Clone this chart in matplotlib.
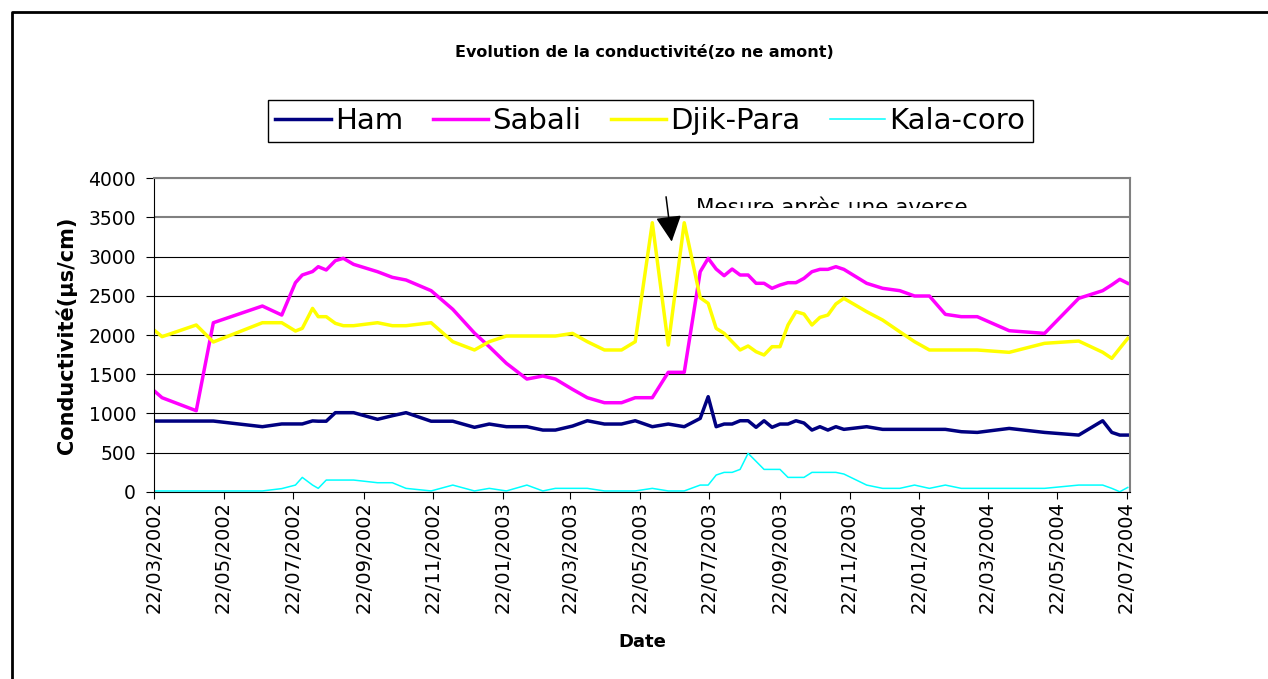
import numpy as np
import pandas as pd
import matplotlib
matplotlib.use('Agg')
from matplotlib import pyplot as plt
from matplotlib.lines import Line2D
from matplotlib.patches import Rectangle

# dates de prélèvement
dates = ['2002-03-22', '2002-03-29', '2002-04-28', '2002-05-13', '2002-06-25',
         '2002-07-12', '2002-07-24', '2002-07-30', '2002-08-08', '2002-08-13',
         '2002-08-20', '2002-08-28', '2002-09-04', '2002-09-13', '2002-10-04',
         '2002-10-17', '2002-10-29', '2002-11-20', '2002-12-09', '2002-12-28',
         '2003-01-10', '2003-01-25', '2003-02-12', '2003-02-26', '2003-03-09',
         '2003-03-24', '2003-04-06', '2003-04-21', '2003-05-06', '2003-05-18',
         '2003-06-02', '2003-06-16', '2003-06-30', '2003-07-14', '2003-07-21',
         '2003-07-28', '2003-08-04', '2003-08-11', '2003-08-18', '2003-08-25',
         '2003-09-01', '2003-09-08', '2003-09-15', '2003-09-22', '2003-09-29',
         '2003-10-06', '2003-10-13', '2003-10-20', '2003-10-27', '2003-11-03',
         '2003-11-10', '2003-11-17', '2003-12-07', '2003-12-21', '2004-01-05',
         '2004-01-18', '2004-01-31', '2004-02-14', '2004-02-28', '2004-03-13',
         '2004-04-10', '2004-05-11', '2004-06-10', '2004-07-01', '2004-07-09',
         '2004-07-16', '2004-07-23']

ham = [902, 902, 902, 902, 830, 865, 865, 865, 904, 900,
       900, 1009, 1009, 1009, 924, 970, 1009, 900, 900, 822,
       864, 830, 830, 787, 787, 838, 906, 864, 864, 906,
       830, 864, 830, 936, 1213, 830, 864, 864, 906, 906,
       822, 906, 822, 864, 864, 906, 877, 787, 830, 787,
       830, 796, 830, 796, 796, 796, 796, 796, 766, 757,
       808, 757, 723, 906, 757, 723, 723]

sabali = [1289, 1200, 1034, 2157, 2370, 2255, 2668, 2766, 2810, 2872,
          2830, 2949, 2979, 2902, 2808, 2736, 2702, 2566, 2328, 2025,
          1851, 1639, 1438, 1477, 1438, 1307, 1200, 1136, 1136, 1200,
          1200, 1524, 1524, 2808, 2979, 2842, 2757, 2842, 2766, 2766,
          2660, 2660, 2596, 2638, 2668, 2668, 2723, 2808, 2838, 2838,
          2872, 2838, 2660, 2596, 2566, 2498, 2498, 2264, 2234, 2234,
          2055, 2021, 2468, 2566, 2640, 2711, 2660]

djik_para = [2064, 1979, 2128, 1911, 2157, 2157, 2051, 2085, 2340, 2234,
             2234, 2149, 2119, 2119, 2157, 2119, 2119, 2157, 1915, 1809,
             1915, 1987, 1987, 1987, 1987, 2021, 1915, 1809, 1809, 1915,
             3433, 1872, 3433, 2476, 2404, 2085, 2021, 1915, 1809, 1860,
             1787, 1745, 1851, 1851, 2128, 2298, 2268, 2128, 2225, 2255,
             2396, 2468, 2298, 2191, 2042, 1915, 1809, 1809, 1809, 1809,
             1779, 1894, 1923, 1780, 1702, 1830, 1957]

kala_coro = [10, 10, 10, 10, 10, 40, 85, 183, 85, 43,
             149, 149, 149, 149, 115, 115, 43, 10, 85, 10,
             43, 10, 85, 10, 43, 43, 43, 10, 10, 10,
             43, 10, 10, 85, 85, 213, 247, 247, 285, 490,
             388, 285, 285, 285, 183, 183, 183, 247, 247, 247,
             247, 226, 85, 43, 43, 85, 43, 85, 43, 43,
             43, 43, 85, 85, 43, 0, 55]

tick_labels = ['22/03/2002', '22/05/2002', '22/07/2002', '22/09/2002', '22/11/2002',
               '22/01/2003', '22/03/2003', '22/05/2003', '22/07/2003', '22/09/2003',
               '22/11/2003', '22/01/2004', '22/03/2004', '22/05/2004', '22/07/2004']

t = pd.to_datetime(dates)
ticks = pd.to_datetime(tick_labels, format='%d/%m/%Y')

fig = plt.figure(figsize=(12.68, 6.79), dpi=100)
ax = fig.add_axes([0.1215, 0.2758, 0.7697, 0.4616])

ax.plot(t, ham, color='#000080', lw=2.5, label='Ham')
ax.plot(t, sabali, color='#FF00FF', lw=2.5, label='Sabali')
ax.plot(t, djik_para, color='#FFFF00', lw=2.5, label='Djik-Para')
ax.plot(t, kala_coro, color='#00FFFF', lw=1.1, label='Kala-coro')

ax.set_xlim(t[0], pd.Timestamp('2004-07-25'))
ax.set_ylim(0, 4000)
ax.set_yticks(np.arange(0, 4001, 500))
ax.set_xticks(ticks)
ax.set_xticklabels(tick_labels, rotation=90)
ax.tick_params(axis='x', labelsize=14, length=5, pad=2, direction='out')
ax.tick_params(axis='y', labelsize=13.5, length=6, pad=7, direction='out')

ax.yaxis.grid(True, color='black', lw=0.8)
ax.set_axisbelow(True)
gl = ax.get_ygridlines()
for g in gl[-2:]:
    g.set_color('#808080')
    g.set_linewidth(1.5)

ax.spines['left'].set_color('black')
ax.spines['bottom'].set_color('black')
ax.spines['right'].set_color('#808080')
ax.spines['top'].set_color('#808080')
ax.spines['right'].set_linewidth(1.5)
ax.spines['top'].set_linewidth(1.5)

ax.set_ylabel('Conductivité(µs/cm)', fontsize=15, fontweight='bold', labelpad=8)
ax.set_xlabel('Date', fontsize=13, fontweight='bold', labelpad=14)

fig.text(0.508, 0.922, 'Evolution de la conductivité(zo ne amont)', fontsize=11.5,
         fontweight='bold', ha='center', va='center')

# note sur l'averse, coupée par le cadre du texte
txt = ax.text(0.555, 0.887, 'Mesure après une averse', transform=ax.transAxes,
              fontsize=15.5, ha='left', va='baseline')
txt.set_clip_on(True)
txt.set_clip_path(Rectangle((0, 0.905), 1, 0.2, transform=ax.transAxes))

ax.annotate('', xy=(0.5304, 0.798), xytext=(0.5246, 0.941), xycoords='axes fraction',
            arrowprops=dict(arrowstyle='-|>,head_length=1.6,head_width=0.8',
                            mutation_scale=10, color='black', lw=1.1,
                            shrinkA=0, shrinkB=0))

leg = ax.legend(loc='center', bbox_to_anchor=(0.513, 0.822), bbox_transform=fig.transFigure,
                ncol=4, fontsize=21, frameon=True, fancybox=False, framealpha=1,
                edgecolor='black', handlelength=1.9, handletextpad=0.15,
                columnspacing=1.0, borderpad=0.25, borderaxespad=0)
leg.get_frame().set_linewidth(1.0)

# cadre extérieur
fig.add_artist(Line2D([12 / 1268, 12 / 1268, 1], [0, 1 - 12 / 679, 1 - 12 / 679],
                      transform=fig.transFigure, color='black', lw=2))

fig.savefig('out.png', dpi=100)
